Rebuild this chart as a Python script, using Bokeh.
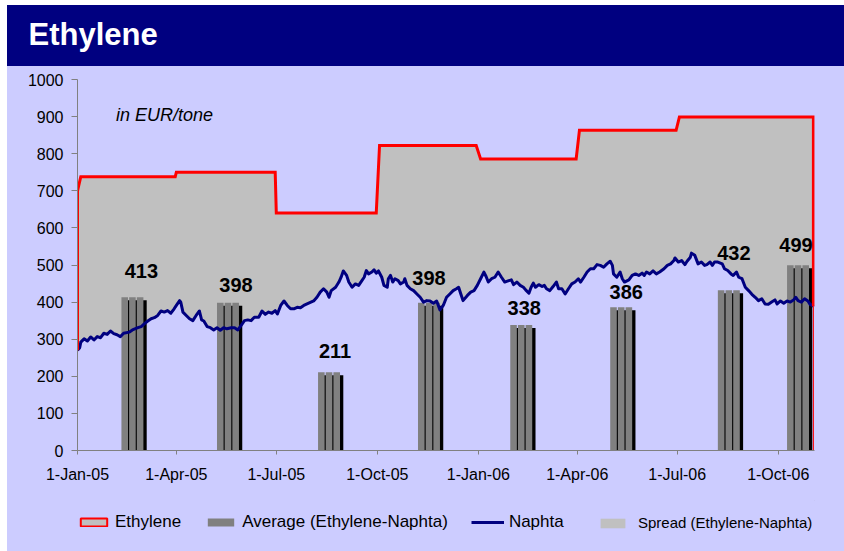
import numpy as np
import pandas as pd
from bokeh.plotting import figure
from bokeh.models import (Range1d, FixedTicker, Legend, LegendItem, Label, ColumnDataSource,
                          Title)
from bokeh.layouts import column
from bokeh.embed import file_html
from bokeh.resources import INLINE
from bokeh.core.properties import value

# ---------------- data ----------------
TITLE = "Ethylene"
UNIT_NOTE = "in EUR/tone"

tick_dates = ["2005-01-01", "2005-04-01", "2005-07-01", "2005-10-01",
              "2006-01-01", "2006-04-01", "2006-07-01", "2006-10-01"]
tick_labels = ["1-Jan-05", "1-Apr-05", "1-Jul-05", "1-Oct-05",
               "1-Jan-06", "1-Apr-06", "1-Jul-06", "1-Oct-06"]
y_ticks = [0, 100, 200, 300, 400, 500, 600, 700, 800, 900, 1000]

# Ethylene contract price (step series)
eth_dates = ["2005-01-01", "2005-01-04", "2005-03-31", "2005-04-01",
             "2005-06-30", "2005-07-01", "2005-09-30", "2005-10-03",
             "2005-12-30", "2006-01-03", "2006-03-31", "2006-04-03",
             "2006-06-30", "2006-07-03", "2006-11-02"]
eth_values = [700, 738, 738, 750, 750, 640, 640, 822, 822, 786, 786, 863,
              863, 899, 899]

# Naphta (days counted from naphta_start)
naphta_start = "2005-01-01"
naphta_day = [0, 2, 3, 6, 9, 12, 15, 18, 21, 24, 27, 30, 33, 36, 39, 42, 47, 50, 55, 58,
              61, 64, 67, 70, 73, 76, 79, 82, 85, 88, 90, 93, 94, 96, 99, 102, 105, 108, 111, 113,
              115, 118, 121, 124, 127, 130, 133, 136, 140, 143, 146, 149, 152, 155, 158, 161,
              165, 168, 171, 174, 177, 180, 182, 185, 188, 191, 194, 197, 200, 203, 206, 209, 212, 215, 218, 221,
              224, 227, 229, 231, 235, 238, 240, 242, 245, 247, 250, 253, 256, 258, 261, 263, 265, 268, 270, 272,
              274, 277, 279, 282, 283, 285, 287, 289, 292, 294, 297, 298, 300, 303, 306, 309, 312, 315, 318, 321,
              324, 327,
              330, 333, 336, 339, 342, 345, 347, 349, 351, 355, 358, 361, 364, 367, 370, 372, 374, 377, 380, 383,
              386, 389, 392, 395, 397, 400, 403, 406, 408, 411, 413, 415, 417, 420, 423, 425, 427, 430, 433, 436,
              438, 441, 444, 447, 450, 453, 456, 458, 461, 464, 467, 470, 473, 476, 479, 482, 485, 487, 488, 491,
              494, 496, 498,
              502, 505, 508, 511, 514, 516, 518, 521, 524, 527, 530, 534, 537, 540, 543, 544, 547, 550, 553, 555,
              558, 559, 562, 565, 568, 571, 573, 576, 578, 580, 583, 587, 589, 592, 595, 597, 600, 602, 605, 608,
              611, 614, 617, 620, 623, 626, 629, 632, 635, 637, 640, 643, 646, 649, 652, 654, 656, 659, 662, 665,
              667, 669, 670]
naphta_val = [270, 277, 292, 301, 295, 306, 298, 307, 304, 316, 313, 322, 315, 312, 307, 316, 319, 325, 331, 334,
              342, 349, 355, 358, 364, 376, 373, 377, 370, 382, 391, 404, 400, 373, 364, 355, 350, 364, 376, 352,
              349, 334, 331, 325, 331, 324, 331, 328, 331, 331, 325, 337, 350, 352, 350, 359,
              359, 376, 367, 373, 370, 377, 368, 391, 403, 391, 382, 382, 386, 385, 391, 395, 399, 403, 413, 427,
              436, 427, 413, 431, 440, 454, 467, 484, 472, 454, 440, 449, 445, 454, 467, 485, 476, 481, 487, 478,
              484, 467, 445, 440, 463, 472, 454, 463, 458, 449, 454, 463, 445, 436, 431, 422, 413, 400, 404, 403,
              397, 403,
              379, 391, 413, 422, 431, 436, 440, 422, 404, 418, 427, 431, 445, 463, 481, 469, 454, 463, 467, 481,
              467, 454, 457, 460, 447, 454, 445, 440, 433, 424, 440, 451, 440, 447, 442, 445, 436, 431, 442, 454,
              436, 436, 422, 436, 449, 454, 463, 454, 467, 481, 490, 490, 501, 499, 494, 503, 510, 499, 476, 467,
              481, 463, 454,
              460, 472, 476, 472, 478, 472, 481, 476, 484, 476, 481, 490, 499, 503, 512, 519, 508, 512, 501, 510,
              521, 532, 526, 503, 508, 499, 501, 508, 499, 508, 508, 503, 490, 485, 476, 472, 481, 467, 463, 440,
              431, 421, 413, 404, 409, 395, 394, 400, 406, 395, 403, 397, 403, 400, 406, 413, 404, 400, 409, 403,
              394, 391, 388]

# Quarterly average spread (Ethylene - Naphta)
avg_dates = ["2005-02-20", "2005-05-18", "2005-08-18", "2005-11-17",
             "2006-02-09", "2006-05-11", "2006-08-17", "2006-10-19"]
avg_values = [413, 398, 211, 398, 338, 386, 432, 499]

x_start = "2005-01-01"
x_end = "2006-11-03"

legend_labels = ["Ethylene", "Average (Ethylene-Naphta)", "Naphta", "Spread (Ethylene-Naphta)"]

# ---------------- styling / layout ----------------
NAVY = "#000080"
LAVENDER = "#CCCCFF"
SPREAD_GRAY = "#C0C0C0"
BAR_GRAY = "#808080"
RED = "#FF0000"
FONT = "Liberation Sans"
label_dx = [9, 8, 6, 0, 3, 5, 5, -2]          # value label offsets in px
label_dy = [26, 18, 21, 25, 17, 15, 37, 20]

DAY_MS = 86400000.0


def ms(d):
    return pd.Timestamp(d).value / 1e6


eth_x = [ms(d) for d in eth_dates]
base = ms(naphta_start)
naphta_x = [base + d * DAY_MS for d in naphta_day]
avg_x = [ms(d) for d in avg_dates]

W = 837
HDR_H = 61
MAIN_H = 434
LEG_H = 51
BL, BR = 70, 30

# ---------------- header band ----------------
hdr = figure(width=W, height=HDR_H, toolbar_location=None, output_backend="svg",
             margin=(5, 0, 0, 7), x_axis_location=None, y_axis_location=None,
             min_border_left=BL, min_border_right=BR, min_border_top=0, min_border_bottom=0,
             styles={"background-color": NAVY},
             title=Title(text=TITLE, align="left", offset=-49, standoff=22,
                         vertical_align="top", text_color="white", text_font=FONT,
                         text_font_style="bold", text_font_size="31px"))
hdr.background_fill_color = NAVY
hdr.border_fill_color = NAVY
hdr.outline_line_color = None
hdr.grid.visible = False

# ---------------- main chart ----------------
p = figure(width=W, height=MAIN_H, x_axis_type="datetime",
           x_range=Range1d(ms(x_start), ms(x_end)), y_range=Range1d(0, 1000),
           toolbar_location=None, output_backend="svg", margin=(0, 0, 0, 7),
           styles={"background-color": LAVENDER},
           min_border_left=BL, min_border_right=BR, min_border_top=13, min_border_bottom=50)
p.background_fill_color = LAVENDER
p.border_fill_color = LAVENDER
p.outline_line_color = None
p.grid.visible = False

# spread area between naphta and ethylene
p.patch(x=eth_x + naphta_x[::-1], y=eth_values + naphta_val[::-1],
        fill_color=SPREAD_GRAY, line_color=None)

# average bars (clusters of thin bars with a shadow)
bar_x, bar_top = [], []
for xv, v in zip(avg_x, avg_values):
    for k in (-1, 0, 1):
        bar_x.append(xv + k * 7 * DAY_MS)
        bar_top.append(v)
p.vbar(x=[x + 3 * DAY_MS for x in bar_x], top=[t - 8 for t in bar_top], bottom=-20,
       width=6 * DAY_MS, fill_color="black", line_color=None)
p.vbar(x=bar_x, top=bar_top, bottom=-20, width=6 * DAY_MS,
       fill_color=BAR_GRAY, line_color=None)

# naphta line
p.line(naphta_x, naphta_val, line_color=NAVY, line_width=3, line_join="round")

# ethylene outline
p.line([eth_x[0]] + eth_x + [eth_x[-1]],
       [naphta_val[0]] + eth_values + [naphta_val[-1]],
       line_color=RED, line_width=3, line_join="miter")
p.line([eth_x[-1], eth_x[-1], eth_x[0]], [naphta_val[-1], 0, 0],
       line_color=RED, line_width=1)

# value labels
lab_src = ColumnDataSource(dict(x=avg_x, y=avg_values, t=[str(v) for v in avg_values],
                                dx=label_dx, dy=[-d for d in label_dy]))
p.text(x="x", y="y", text="t", x_offset="dx", y_offset="dy", source=lab_src,
       text_align="center", text_baseline="alphabetic", text_font=value(FONT),
       text_font_style="bold", text_font_size="20px", text_color="black")

p.add_layout(Label(x=ms("2005-02-05"), y=903, text=UNIT_NOTE, text_font=FONT,
                   text_font_style="italic", text_font_size="18px",
                   text_color="black", text_baseline="alphabetic"))

# axes
for ax in (p.xaxis[0], p.yaxis[0]):
    ax.axis_line_color = "#808080"
    ax.major_tick_line_color = "#808080"
    ax.minor_tick_line_color = None
    ax.major_tick_in = 0
    ax.major_label_text_font = FONT
    ax.major_label_text_font_size = "16px"
    ax.major_label_text_color = "black"

p.yaxis.ticker = FixedTicker(ticks=y_ticks)
p.yaxis.major_tick_out = 6
p.yaxis.major_label_standoff = 8

tick_ms = [ms(d) for d in tick_dates]
p.xaxis.ticker = FixedTicker(ticks=tick_ms)
p.xaxis.major_label_overrides = {t: l for t, l in zip(tick_ms, tick_labels)}
p.xaxis.major_tick_out = 4
p.xaxis.major_label_standoff = 11

# ---------------- legend strip ----------------
lf = figure(width=W, height=LEG_H, toolbar_location=None, output_backend="svg",
            margin=(0, 0, 0, 7), x_axis_location=None, y_axis_location=None,
            x_range=Range1d(0, 1), y_range=Range1d(0, 1),
            styles={"background-color": LAVENDER},
            min_border_left=BL, min_border_right=BR, min_border_top=0, min_border_bottom=0)
lf.background_fill_color = LAVENDER
lf.border_fill_color = LAVENDER
lf.outline_line_color = None
lf.grid.visible = False

# key glyphs (their single point lies outside the visible range)
k_eth = lf.quad(left=[5], right=[6], top=[6], bottom=[5], fill_color=SPREAD_GRAY,
                line_color=RED, line_width=2)
k_avg = lf.vbar(x=[5], top=[6], bottom=[5], width=1, fill_color=BAR_GRAY, line_color=None)
k_nap = lf.line(x=[5, 6], y=[5, 5], line_color=NAVY, line_width=3)
k_spr = lf.quad(left=[5], right=[6], top=[6], bottom=[5], fill_color=SPREAD_GRAY,
                line_color=None)

legend1 = Legend(items=[LegendItem(label=legend_labels[0], renderers=[k_eth]),
                        LegendItem(label=legend_labels[1], renderers=[k_avg]),
                        LegendItem(label=legend_labels[2], renderers=[k_nap])],
                 orientation="horizontal", location=(0, 19), padding=0, margin=0,
                 spacing=23, glyph_width=33, glyph_height=10, label_standoff=5,
                 label_text_font=FONT, label_text_font_size="17px", label_text_color="black",
                 border_line_color=None, background_fill_alpha=0)
legend2 = Legend(items=[LegendItem(label=legend_labels[3], renderers=[k_spr])],
                 orientation="horizontal", location=(520, 20), padding=0, margin=0,
                 glyph_width=31, glyph_height=12, label_standoff=10,
                 label_text_font=FONT, label_text_font_size="15px", label_text_color="black",
                 border_line_color=None, background_fill_alpha=0)
lf.add_layout(legend1)
lf.add_layout(legend2)

layout = column(hdr, p, lf, spacing=0)
open("out.html", "w").write(file_html(layout, INLINE))
